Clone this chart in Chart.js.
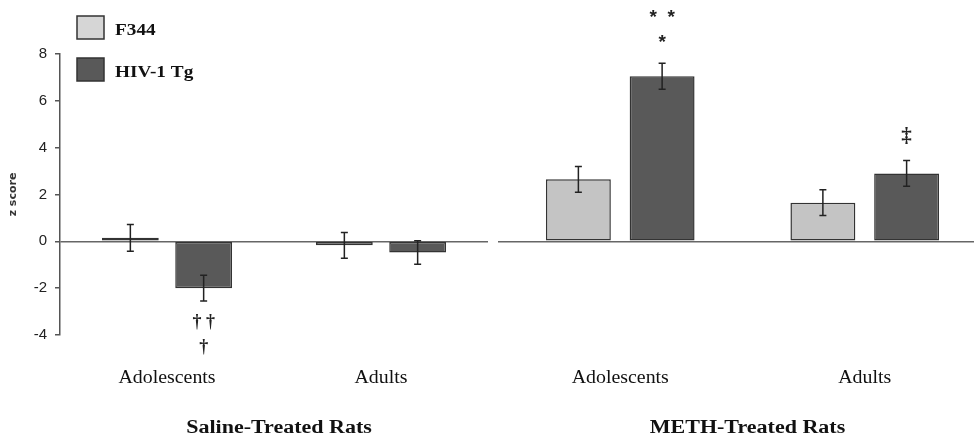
<!DOCTYPE html>
<html>
<head>
<meta charset="utf-8">
<script src="https://cdn.jsdelivr.net/npm/chart.js@4/dist/chart.umd.min.js"></script>
<style>
  html, body { margin: 0; padding: 0; background: #fff; overflow: hidden; }
  #wrap { position: relative; width: 974px; height: 438px; overflow: hidden; background: #fff; }
  #saline { position: absolute; left: 0; top: 0; }
  #meth { position: absolute; left: 498px; top: 0; }
</style>
</head>
<body>
<div id="wrap">
  <canvas id="saline" width="488" height="438"></canvas>
  <canvas id="meth" width="489" height="438"></canvas>
</div>
<script>
// ---- data ----
const categories = ['Adolescents', 'Adults'];
const seriesNames = ['F344', 'HIV-1 Tg'];
const yTicks = [-4, -2, 0, 2, 4, 6, 8];
const groupTitles = ['Saline-Treated Rats', 'METH-Treated Rats'];

const salineF344 = [0.15, -0.17];
const salineF344Err = [0.57, 0.55];
const salineTg = [-2.0, -0.48];
const salineTgErr = [0.55, 0.5];

const methF344 = [2.65, 1.65];
const methF344Err = [0.55, 0.55];
const methTg = [7.05, 2.9];
const methTgErr = [0.55, 0.55];

// significance marks: which bar, and the symbol lines (nearest line last for "above", first for "below")
const salineMarks = [{ series: 1, index: 0, lines: ['\u2020 \u2020', '\u2020'], side: 'below', kind: 'dagger' }];
const methMarks = [
  { series: 1, index: 0, lines: ['*  *', '*'], side: 'above', kind: 'star' },
  { series: 1, index: 1, lines: ['\u2021'], side: 'above', kind: 'ddagger' }
];

// ---- styles ----
const fillLight = '#c4c4c4';
const fillDark = '#595959';
const edge = '#333333';
const serif = "'Liberation Serif', 'Times New Roman', serif";
const markFonts = {
  star: "bold 19px 'Liberation Sans', Arial, sans-serif",
  dagger: "bold 18px " + serif,
  ddagger: "bold 21px " + serif
};

function stretchedText(ctx, text, x, y, font, align, sx, color) {
  ctx.save();
  ctx.font = font;
  ctx.fillStyle = color;
  ctx.textBaseline = 'alphabetic';
  ctx.textAlign = 'left';
  const w = ctx.measureText(text).width * sx;
  const left = align === 'center' ? x - w / 2 : x;
  ctx.translate(left, y);
  ctx.scale(sx, 1);
  ctx.fillText(text, 0, 0);
  ctx.restore();
}

function centredGlyph(ctx, text, x, yc, font, color) {
  ctx.save();
  ctx.font = font;
  ctx.fillStyle = color;
  ctx.textAlign = 'center';
  ctx.textBaseline = 'alphabetic';
  const m = ctx.measureText(text);
  const base = yc + (m.actualBoundingBoxAscent - m.actualBoundingBoxDescent) / 2;
  ctx.fillText(text, x, base);
  ctx.restore();
}

// error bars, category labels, group title, marks and legend
const decorations = {
  id: 'decorations',
  afterDatasetsDraw(chart, args, opts) {
    const ctx = chart.ctx;
    const ys = chart.scales.y, xs = chart.scales.x;
    chart.data.datasets.forEach((ds, i) => {
      const meta = chart.getDatasetMeta(i);
      meta.data.forEach((el, j) => {
        const v = ds.data[j], e = ds.errors[j];
        const t = ys.getPixelForValue(v + e), b = ys.getPixelForValue(v - e);
        ctx.save();
        ctx.strokeStyle = '#222';
        ctx.lineWidth = 1.5;
        ctx.beginPath();
        ctx.moveTo(el.x, t); ctx.lineTo(el.x, b);
        ctx.moveTo(el.x - 3.5, t); ctx.lineTo(el.x + 3.5, t);
        ctx.moveTo(el.x - 3.5, b); ctx.lineTo(el.x + 3.5, b);
        ctx.stroke();
        ctx.restore();
      });
    });

    // category labels
    categories.forEach((c, k) => {
      stretchedText(ctx, c, xs.getPixelForValue(k), 383, "19.5px " + serif, 'center', 1.02, '#111');
    });
    // group title
    const mid = (xs.getPixelForValue(0) + xs.getPixelForValue(categories.length - 1)) / 2 + 5;
    stretchedText(ctx, opts.title, mid, 433, "bold 18.5px " + serif, 'center', 1.19, '#111');

    // significance marks
    (opts.marks || []).forEach(mk => {
      const ds = chart.data.datasets[mk.series];
      const el = chart.getDatasetMeta(mk.series).data[mk.index];
      const v = ds.data[mk.index], e = ds.errors[mk.index];
      const n = mk.lines.length;
      mk.lines.forEach((line, li) => {
        let yc;
        if (mk.side === 'above') {
          const edgeY = ys.getPixelForValue(v + e);
          yc = edgeY - 25 - (n - 1 - li) * 25;
        } else {
          const edgeY = ys.getPixelForValue(v - e);
          yc = edgeY + 21 + li * 25;
        }
        centredGlyph(ctx, line, el.x, yc, markFonts[mk.kind], '#222');
      });
    });

    // legend
    if (opts.legend) {
      chart.data.datasets.forEach((ds, i) => {
        const top = 16 + i * 42;
        ctx.save();
        ctx.fillStyle = i === 0 ? '#d6d6d6' : ds.backgroundColor;
        ctx.strokeStyle = edge;
        ctx.lineWidth = 1.5;
        ctx.fillRect(77, top, 27, 23);
        ctx.strokeRect(77, top, 27, 23);
        ctx.restore();
        stretchedText(ctx, ds.label, 115, top + 19, "bold 17.5px " + serif, 'left', 1.1, '#111');
      });
    }
  }
};

function barSet(label, data, errors, color) {
  return {
    label, data, errors,
    backgroundColor: color,
    borderColor: edge,
    borderWidth: 1.5,
    borderSkipped: false,
    categoryPercentage: 0.685,
    barPercentage: 0.775
  };
}

function makeChart(id, d1, e1, d2, e2, withAxis, title, marks) {
  return new Chart(document.getElementById(id), {
    type: 'bar',
    data: {
      labels: categories,
      datasets: [
        barSet(seriesNames[0], d1, e1, fillLight),
        barSet(seriesNames[1], d2, e2, fillDark)
      ]
    },
    options: {
      responsive: false,
      animation: false,
      events: [],
      layout: { padding: { top: 54, bottom: 103, left: 0, right: 0 } },
      plugins: {
        legend: { display: false },
        tooltip: { enabled: false },
        decorations: { title, marks, legend: withAxis }
      },
      scales: {
        x: { display: false },
        y: {
          min: -4, max: 8,
          afterBuildTicks: s => { s.ticks = yTicks.map(v => ({ value: v })); },
          afterFit: s => { s.width = withAxis ? 60 : 0; },
          border: { display: withAxis, color: '#555', width: 1.5 },
          grid: {
            drawTicks: withAxis,
            tickLength: 5,
            tickColor: '#555',
            lineWidth: 1.5,
            color: c => (c.tick && c.tick.value === 0) ? '#666' : 'rgba(0,0,0,0)'
          },
          ticks: {
            display: withAxis,
            padding: 8,
            color: '#222',
            font: { family: "'Liberation Sans', Arial, sans-serif", size: 15 }
          },
          title: {
            display: withAxis,
            text: 'z score',
            color: '#333',
            padding: { top: 7, bottom: 0 },
            font: { family: "'DejaVu Sans', sans-serif", size: 11, weight: 'bold' }
          }
        }
      }
    },
    plugins: [decorations]
  });
}

makeChart('saline', salineF344, salineF344Err, salineTg, salineTgErr, true, groupTitles[0], salineMarks);
makeChart('meth', methF344, methF344Err, methTg, methTgErr, false, groupTitles[1], methMarks);
</script>
</body>
</html>
